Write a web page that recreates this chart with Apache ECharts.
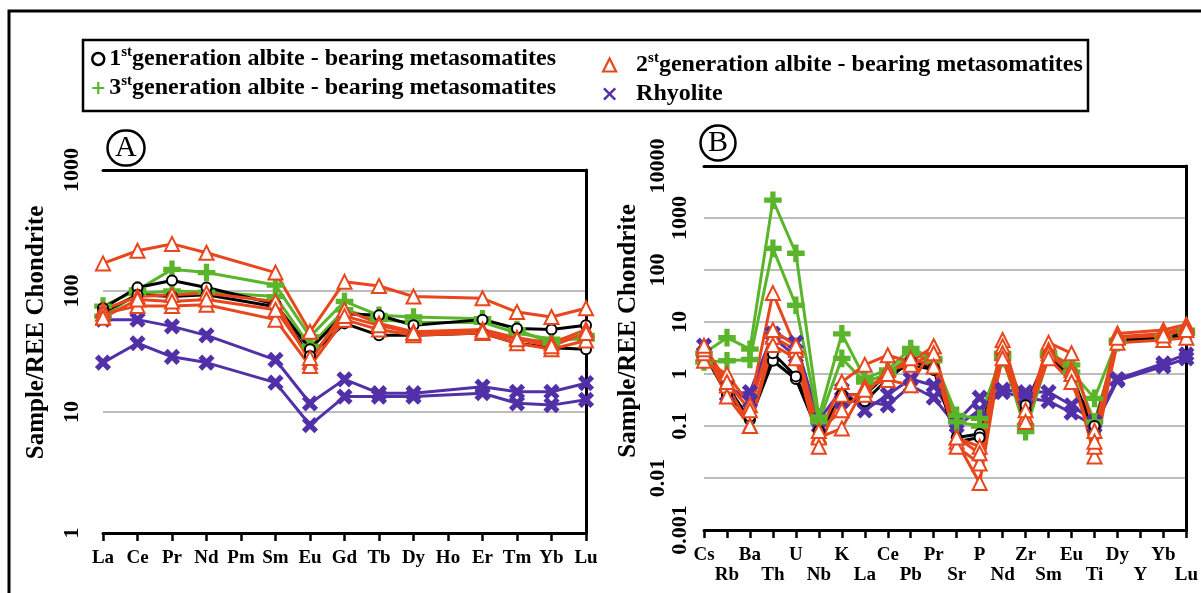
<!DOCTYPE html>
<html>
<head>
	<meta charset="utf-8">
	<title>REE / spider diagrams</title>
	<script type="text/javascript" src="https://cdn.jsdelivr.net/npm/echarts/dist/echarts.min.js"></script>
	<style>
		html, body { margin: 0; padding: 0; background: #fff; }
	</style>
</head>
<body>
	<div style="height: 593px; width: 1201px" id="chart"></div>

	<script type="text/javascript">
		// ---- data ----
		// (A) chondrite normalised REE, null = not analysed (Pm, Ho)
		var reeA = ['La', 'Ce', 'Pr', 'Nd', 'Pm', 'Sm', 'Eu', 'Gd', 'Tb', 'Dy', 'Ho', 'Er', 'Tm', 'Yb', 'Lu'];
		var gen1A_1 = [72, 107, 122, 107, null, 78, 33, 65, 63, 52, null, 58, 49, 48, 52];
		var gen1A_2 = [67, 93, 90, 93, null, 74, 29, 54, 43, 43, null, 45, 37, 34, 33];
		var gen2A_1 = [169, 215, 245, 207, null, 142, 46, 119, 110, 90, null, 87, 67, 61, 72];
		var gen2A_2 = [70, 90, 93, 96, null, 82, 26, 70, 54, 46, null, 48, 41, 37, 48];
		var gen2A_3 = [65, 75, 75, 77, null, 58, 24, 58, 48, 43, null, 45, 37, 33, 39];
		var gen2A_4 = [60, 85, 82, 85, null, 70, 28, 62, 52, 45, null, 46, 40, 35, 45];
		var gen3A_1 = [75, 102, 151, 142, null, 112, 42, 82, 63, 61, null, 59, 48, 37, 43];
		var gen3A_2 = [62, 95, 100, 98, null, 90, 35, 70, 58, 55, null, 55, 45, 40, 40];
		var rhyA_1 = [58, 58, 51, 43, null, 27, 11.8, 18.6, 14.3, 14.3, null, 16.2, 14.7, 14.7, 17.3];
		var rhyA_2 = [25.6, 37, 28.6, 25.6, null, 17.5, 7.8, 13.4, 13.4, 13.4, null, 14.3, 11.8, 11.4, 12.6];

		// (B) spider diagram, null = Y
		var elemB = ['Cs', 'Rb', 'Ba', 'Th', 'U', 'Nb', 'K', 'La', 'Ce', 'Pb', 'Pr', 'Sr', 'P', 'Nd', 'Zr', 'Sm', 'Eu', 'Ti', 'Dy', 'Y', 'Yb', 'Lu'];
		var gen1B_1 = [3.0, 0.6, 0.13, 1.8, 0.8, 0.07, 0.4, 0.4, 1.0, 1.5, 1.2, 0.06, 0.07, 2.5, 0.2, 2.0, 1.0, 0.07, 4.5, null, 5, 5.5];
		var gen1B_2 = [2.5, 0.4, 0.15, 2.5, 0.9, 0.08, 0.35, 0.3, 0.8, 1.8, 1.3, 0.05, 0.06, 2.2, 0.25, 2.5, 0.8, 0.1, 4, null, 5.5, 6];
		var gen2B_1 = [1.8, 1.0, 0.25, 36, 3.2, 0.065, 0.7, 1.5, 2.3, 1.7, 3.4, 0.06, 0.04, 4.5, 0.15, 4, 2.5, 0.08, 6, null, 7, 9];
		var gen2B_2 = [2.5, 0.6, 0.1, 5.2, 2.9, 0.06, 0.09, 0.57, 0.77, 0.61, 3.4, 0.05, 0.008, 3.4, 0.15, 2.9, 1.2, 0.026, 5.2, null, 6, 8];
		var gen2B_3 = [3, 0.37, 0.1, 3.6, 2, 0.04, 0.4, 0.4, 1.2, 1.5, 2.5, 0.04, 0.019, 2.5, 0.2, 2.5, 1.0, 0.04, 4, null, 4.5, 5];
		var gen2B_4 = [3.5, 0.7, 0.2, 7, 3.5, 0.08, 0.2, 0.5, 1.0, 2.0, 1.4, 0.06, 0.03, 2.0, 0.12, 2.0, 0.7, 0.05, 5, null, 5.5, 7];
		var gen3B_1 = [2.5, 5, 3.0, 2200, 210, 0.15, 5.9, 0.83, 1.2, 3.1, 2.0, 0.16, 0.14, 2.5, 0.078, 2.2, 1.1, 0.34, 4.5, null, 5.2, 7];
		var gen3B_2 = [1.7, 1.8, 1.9, 260, 21, 0.12, 2.0, 0.7, 1.0, 2.5, 1.8, 0.12, 0.1, 2, 0.1, 2.5, 1.5, 0.12, 4, null, 5, 6];
		var rhyB_1 = [3.5, 0.4, 0.45, 6, 4, 0.13, 0.5, 0.2, 0.4, 0.8, 0.6, 0.12, 0.35, 0.5, 0.45, 0.45, 0.25, 0.12, 0.8, null, 1.6, 2.4];
		var rhyB_2 = [2.5, 0.6, 0.3, 5, 2.2, 0.1, 0.3, 0.3, 0.25, 0.6, 0.35, 0.1, 0.2, 0.45, 0.35, 0.3, 0.18, 0.1, 0.75, null, 1.4, 2.0];

		var outerTicks = ['10000', '100', '0.01'];   // staggered labels on B axis

		// ---- styles ----
		var FONT = 'Liberation Serif';
		var plus = 'path://M4.1,0H5.9V4.1H10V5.9H5.9V10H4.1V5.9H0V4.1H4.1Z';
		var look = {
			'1st': { symbol: 'emptyCircle', size: 10, color: '#000000' },
			'2st': { symbol: 'emptyTriangle', size: 14, color: '#e8461c' },
			'3st': { symbol: plus, size: 15, color: '#5ab52b' },
			'Rhyolite': { symbol: plus, size: 15, rotate: 45, color: '#5230a8' }
		};

		function mk(name, data, gi) {
			var s = look[name];
			return {
				name: name,
				type: 'line',
				xAxisIndex: gi * 2,
				yAxisIndex: gi * 2,
				data: data,
				connectNulls: true,
				symbol: s.symbol,
				symbolSize: s.size,
				symbolRotate: s.rotate || 0,
				lineStyle: { color: s.color, width: 3 },
				itemStyle: { color: s.color, borderColor: s.color, borderWidth: 2.6 },
				emphasis: { disabled: true }
			};
		}

		var series = [
			mk('Rhyolite', rhyA_1, 0), mk('Rhyolite', rhyA_2, 0),
			mk('3st', gen3A_1, 0), mk('3st', gen3A_2, 0),
			mk('1st', gen1A_1, 0), mk('1st', gen1A_2, 0),
			mk('2st', gen2A_1, 0), mk('2st', gen2A_2, 0), mk('2st', gen2A_3, 0), mk('2st', gen2A_4, 0),
			mk('Rhyolite', rhyB_1, 1), mk('Rhyolite', rhyB_2, 1),
			mk('3st', gen3B_1, 1), mk('3st', gen3B_2, 1),
			mk('1st', gen1B_1, 1), mk('1st', gen1B_2, 1),
			mk('2st', gen2B_1, 1), mk('2st', gen2B_2, 1), mk('2st', gen2B_3, 1), mk('2st', gen2B_4, 1)
		];

		var black = { color: '#000', width: 3 };
		var lbl = { fontFamily: FONT, fontWeight: 'bold', fontSize: 19, color: '#000' };
		var gridLine = { color: '#bdbdbd', width: 2 };
		var tickFont = { fontFamily: FONT, fontWeight: 'bold', fontSize: 22, color: '#000' };

		function xAx(gi, cats, fmt) {
			var label = Object.assign({ interval: 0, margin: 15, lineHeight: 20 }, lbl);
			if (fmt) label.formatter = fmt;
			return [{
				type: 'category', gridIndex: gi, data: cats, boundaryGap: false, z: 1,
				axisLine: { lineStyle: black },
				axisTick: { length: 8, interval: 0, lineStyle: { color: '#000', width: 2.5 } },
				axisLabel: label,
				splitLine: { show: false }
			}, {
				type: 'category', gridIndex: gi, data: cats, boundaryGap: false, position: 'top', z: 3,
				axisLine: { lineStyle: black }, axisTick: { show: false }, axisLabel: { show: false }
			}];
		}
		function yAx(gi, min, max, gap, shift, margin, fmt) {
			return [{
				type: 'log', logBase: 10, gridIndex: gi, min: min, max: max, z: 1,
				name: 'Sample/REE Chondrite', nameLocation: 'middle', nameGap: gap,
				nameTextStyle: { fontFamily: FONT, fontWeight: 'bold', fontSize: 25, color: '#000', padding: [0, 0, 0, shift] },
				axisLine: { lineStyle: black },
				axisTick: { length: 8, lineStyle: { color: '#000', width: 2.5 } },
				axisLabel: Object.assign({}, tickFont, { rotate: 90, margin: margin, formatter: fmt,
					rich: {
						i: tickFont,
						o: Object.assign({ padding: [0, 0, 22, 0] }, tickFont)
					} }),
				splitLine: { show: true, lineStyle: gridLine }
			}, {
				type: 'log', logBase: 10, gridIndex: gi, min: min, max: max, position: 'right', z: 3,
				axisLine: { show: true, lineStyle: black }, axisTick: { show: false },
				axisLabel: { show: false }, splitLine: { show: false }
			}];
		}

		function num(v) { return String(+(+v).toPrecision(3)); }

		var legendText = {
			fontFamily: FONT, fontWeight: 'bold', fontSize: 24, color: '#000',
			rich: {
				n: { fontFamily: FONT, fontWeight: 'bold', fontSize: 24, lineHeight: 28, color: '#000' },
				s: { fontFamily: FONT, fontWeight: 'bold', fontSize: 15, lineHeight: 15, color: '#000', padding: [0, 0, 13, 0] }
			}
		};
		function legendFmt(name) {
			if (name === 'Rhyolite') return '{n|Rhyolite}';
			return '{n|' + name.charAt(0) + '}{s|st}{n|generation albite - bearing metasomatites}';
		}

		var chart = echarts.init(document.getElementById('chart'), null, { renderer: 'canvas' });
		var option = {
			animation: false,
			backgroundColor: '#ffffff',
			title: [
				{ text: 'A', left: 107, top: 130, padding: [3, 8, 3, 8], borderColor: '#000', borderWidth: 2.5, borderRadius: 19,
					textStyle: { fontFamily: FONT, fontSize: 30, fontWeight: 'normal', color: '#000', lineHeight: 30 } },
				{ text: 'B', left: 700, top: 125, padding: [3, 8, 3, 8], borderColor: '#000', borderWidth: 2.5, borderRadius: 19,
					textStyle: { fontFamily: FONT, fontSize: 30, fontWeight: 'normal', color: '#000', lineHeight: 30 } }
			],
			legend: [
				{ left: 86, top: 40, orient: 'vertical', itemGap: 1, itemWidth: 12, itemHeight: 12, selectedMode: false,
					formatter: legendFmt, textStyle: legendText,
					data: [
						{ name: '1st', icon: 'circle', itemStyle: { color: '#fff', borderColor: '#000', borderWidth: 2.5 } },
						{ name: '3st', icon: plus, itemStyle: { color: look['3st'].color, borderWidth: 0 } }
					] },
				{ left: 597, top: 46, orient: 'vertical', itemGap: 3, itemWidth: 13, itemHeight: 13, selectedMode: false,
					formatter: legendFmt, textStyle: Object.assign({}, legendText, { padding: [0, 0, 0, 15] }),
					data: [
						{ name: '2st', icon: 'triangle', itemStyle: { color: '#fff', borderColor: look['2st'].color, borderWidth: 2.2 } },
						{ name: 'Rhyolite', icon: 'path://M1.3,0L5,3.7L8.7,0L10,1.3L6.3,5L10,8.7L8.7,10L5,6.3L1.3,10L0,8.7L3.7,5L0,1.3Z',
							itemStyle: { color: look['Rhyolite'].color, borderWidth: 0 } }
					] }
			],
			grid: [
				{ left: 103, top: 170, width: 483, height: 363 },
				{ left: 704, top: 166, width: 483, height: 364 }
			],
			xAxis: xAx(0, reeA, null).concat(xAx(1, elemB, function (v, i) { return i % 2 ? '\n' + v : v; })),
			yAxis: yAx(0, 1, 1000, 54, 38, 20, function (v) { return '{i|' + num(v) + '}'; })
				.concat(yAx(1, 0.001, 10000, 63, 34, 13, function (v) {
					var s = num(v);
					return outerTicks.indexOf(s) >= 0 ? '{o|' + s + '}' : '{i|' + s + '}';
				})),
			series: series,
			graphic: [
				{ type: 'rect', silent: true, z: 10, shape: { x: 9, y: 11, width: 1260, height: 640 },
					style: { fill: 'none', stroke: '#000', lineWidth: 3 } },
				{ type: 'rect', silent: true, z: 10, shape: { x: 83, y: 40, width: 1005, height: 71 },
					style: { fill: 'none', stroke: '#000', lineWidth: 2.5 } }
			]
		};
		chart.setOption(option);
	</script>
</body>
</html>
